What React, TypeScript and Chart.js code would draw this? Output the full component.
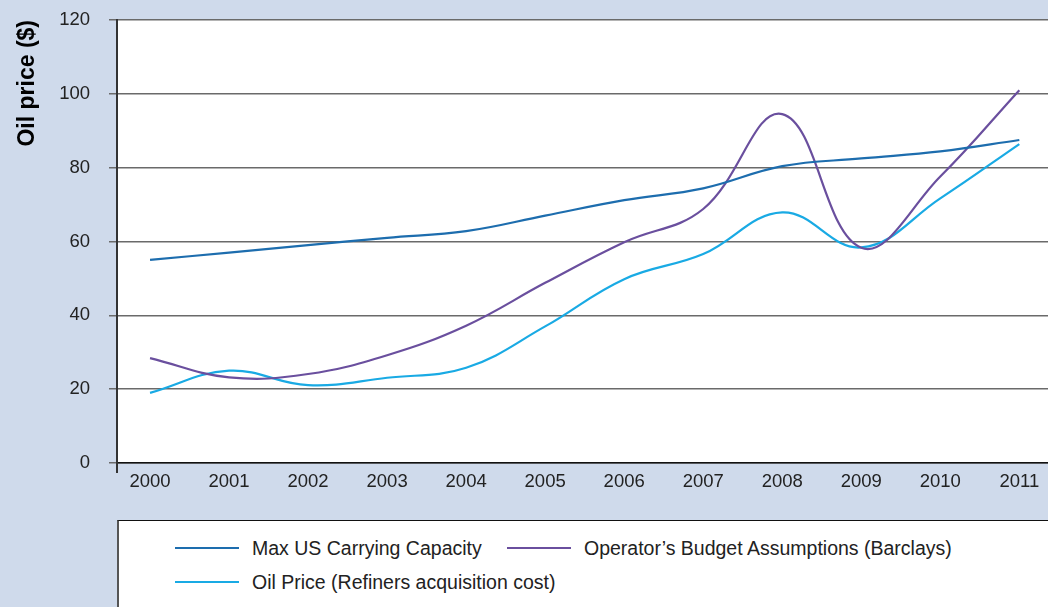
import { useEffect, useRef } from "react";
import { Chart, registerables } from "chart.js";

Chart.register(...registerables);

// ---- data ----
const years = [2000, 2001, 2002, 2003, 2004, 2005, 2006, 2007, 2008, 2009, 2010, 2011];
const maxUsCapacity = [55, 57, 59, 61, 62.8, 67, 71.2, 74.4, 80.4, 82.5, 84.4, 87.5];
const operatorBudget = [28.4, 23.2, 24.1, 29.2, 37.2, 48.8, 59.8, 68.8, 94.5, 58.3, 77.6, 101];
const oilPrice = [19, 25, 21.1, 23.1, 25.8, 37, 49.8, 56.6, 67.9, 58.4, 71.7, 86.4];
const yTickValues = [0, 20, 40, 60, 80, 100, 120];
const seriesNames = [
  "Max US Carrying Capacity",
  "Operator’s Budget Assumptions (Barclays)",
  "Oil Price (Refiners acquisition cost)",
];
const seriesColors = ["#1d6dae", "#6a4f9e", "#19aae4"];
const yAxisTitle = "Oil price ($)";

const FONT = "'Liberation Sans', Arial, Helvetica, sans-serif";

const plotBgPlugin = {
  id: "plotBg",
  beforeDraw(chart: any) {
    const { ctx, chartArea } = chart;
    const { left, top, right, bottom } = chartArea;
    ctx.save();
    ctx.fillStyle = "#ffffff";
    ctx.fillRect(left, top, right - left, bottom - top);
    ctx.restore();
  },
  afterDraw(chart: any) {
    const { ctx, chartArea } = chart;
    ctx.save();
    ctx.strokeStyle = "#333333";
    ctx.lineWidth = 2;
    ctx.beginPath();
    ctx.moveTo(chartArea.left, chartArea.bottom);
    ctx.lineTo(chartArea.left, chartArea.bottom + 10);
    ctx.stroke();
    ctx.restore();
  },
};

export default function App() {
  const canvasRef = useRef<HTMLCanvasElement | null>(null);

  useEffect(() => {
    const canvas = canvasRef.current;
    if (!canvas) return;
    const seriesValues = [maxUsCapacity, operatorBudget, oilPrice];
    const chart = new Chart(canvas, {
      type: "line",
      data: {
        datasets: seriesValues.map((vals, i) => ({
          label: seriesNames[i],
          data: years.map((yr, j) => ({ x: yr, y: vals[j] })),
          borderColor: seriesColors[i],
          backgroundColor: seriesColors[i],
          borderWidth: 2.2,
          pointRadius: 0,
          tension: 0.4,
          fill: false,
        })),
      },
      options: {
        responsive: false,
        animation: false,
        maintainAspectRatio: false,
        layout: { padding: { top: 20, left: 0, right: 0, bottom: 0 } },
        plugins: {
          legend: { display: false },
          tooltip: { enabled: false },
        },
        scales: {
          x: {
            type: "linear",
            min: 1999.582,
            max: 2011.363,
            afterBuildTicks(scale: any) {
              scale.ticks = years.map((v) => ({ value: v }));
            },
            afterFit(scale: any) {
              scale.height = 57;
            },
            grid: { display: false, drawTicks: false },
            border: { display: true, color: "#111111", width: 1.5 },
            ticks: {
              padding: 8,
              color: "#222222",
              font: { family: FONT, size: 18.5 },
              callback: (v: any) => String(v),
              maxRotation: 0,
              autoSkip: false,
            },
          },
          y: {
            min: 0,
            max: 120,
            afterBuildTicks(scale: any) {
              scale.ticks = yTickValues.map((v) => ({ value: v }));
            },
            afterFit(scale: any) {
              scale.width = 117;
              scale.paddingTop = 0;
              scale.paddingBottom = 0;
            },
            grid: {
              color: "#6a6a6a",
              lineWidth: 1.5,
              drawTicks: true,
              tickLength: 8,
            },
            border: { display: true, color: "#333333", width: 2 },
            ticks: {
              padding: 19,
              color: "#222222",
              font: { family: FONT, size: 18.5 },
            },
            title: {
              display: true,
              text: yAxisTitle,
              align: "end",
              color: "#000000",
              font: { family: FONT, size: 23, weight: "bold" },
              padding: { top: 14, bottom: 0 },
            },
          },
        },
      },
      plugins: [plotBgPlugin],
    } as any);
    return () => chart.destroy();
  }, []);

  return (
    <div
      style={{
        position: "fixed",
        left: 0,
        top: 0,
        width: 1048,
        height: 607,
        overflow: "hidden",
        background: "#cfdaeb",
        fontFamily: FONT,
      }}
    >
      <canvas
        ref={canvasRef}
        width={1048}
        height={520}
        style={{ position: "absolute", left: 0, top: 0, width: 1048, height: 520 }}
      />
      <div
        style={{
          position: "absolute",
          left: 117,
          top: 520,
          right: 0,
          bottom: 0,
          background: "#ffffff",
          borderTop: "1.5px solid #111111",
          borderLeft: "2px solid #555555",
          paddingLeft: 56,
          paddingTop: 10,
          display: "grid",
          gridTemplateColumns: "332px 500px",
          gridAutoRows: "34px",
          alignContent: "start",
        }}
      >
        {seriesNames.map((name, i) => (
          <div
            key={name}
            style={{ display: "flex", alignItems: "center", height: 34, whiteSpace: "nowrap", overflow: "visible" }}
          >
            <span
              style={{
                display: "inline-block",
                flex: "0 0 64px",
                width: 64,
                height: 2,
                background: seriesColors[i],
                marginRight: 13,
              }}
            />
            <span style={{ fontSize: 19.5, color: "#222222", whiteSpace: "nowrap", flex: "0 0 auto" }}>{name}</span>
          </div>
        ))}
      </div>
    </div>
  );
}
